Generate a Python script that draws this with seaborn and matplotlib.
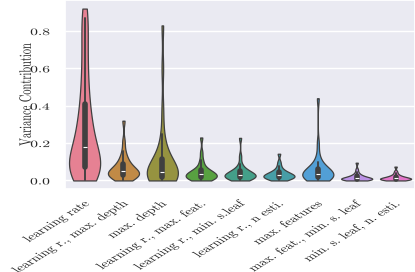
import numpy as np
import pandas as pd
import matplotlib
matplotlib.use("Agg")
import matplotlib.pyplot as plt
import seaborn as sns
from matplotlib.patheffects import AbstractPathEffect
from matplotlib.transforms import Affine2D

params = ["learning rate", "learning r., max. depth", "max. depth",
          "learning r., max. feat.", "learning r., min. s.leaf",
          "learning r., n esti.", "max. features", "max. feat., min. s. leaf",
          "min. s. leaf, n. esti."]

lr = [0.0, 0.005, 0.012, 0.02, 0.028, 0.035, 0.042, 0.048,
      0.055, 0.065, 0.075, 0.085, 0.095, 0.105, 0.115, 0.125, 0.135, 0.145,
      0.155, 0.17, 0.19, 0.21, 0.23, 0.25, 0.27, 0.29, 0.31, 0.34, 0.37, 0.40,
      0.44, 0.48, 0.53, 0.58, 0.64, 0.70, 0.76, 0.82, 0.87, 0.92]
lr_md = [0.0, 0.005, 0.01, 0.015, 0.02, 0.024, 0.028, 0.031, 0.034, 0.037, 0.04, 0.043, 0.046,
         0.05, 0.055, 0.06, 0.066, 0.072, 0.08, 0.09, 0.1, 0.115, 0.13, 0.16, 0.21, 0.32]
md = [0.0, 0.003, 0.006, 0.009, 0.012, 0.015, 0.018, 0.021, 0.024, 0.027, 0.03, 0.033, 0.037,
      0.042, 0.048, 0.055, 0.063, 0.072, 0.082, 0.095, 0.11, 0.13, 0.155, 0.19, 0.25, 0.38,
      0.6, 0.83]
lr_mf = [0.0, 0.002, 0.005, 0.008, 0.01, 0.013, 0.016, 0.019, 0.022, 0.025, 0.028, 0.03, 0.032,
         0.035, 0.038, 0.041, 0.045, 0.05, 0.055, 0.06, 0.07, 0.09, 0.11, 0.15, 0.23]
lr_msl = [0.0, 0.003, 0.006, 0.009, 0.012, 0.015, 0.018, 0.02, 0.022, 0.024, 0.026, 0.028, 0.03,
          0.032, 0.035, 0.038, 0.041, 0.045, 0.05, 0.055, 0.06, 0.07, 0.09, 0.13, 0.228]
lr_ne = [0.0, 0.002, 0.005, 0.008, 0.011, 0.014, 0.016, 0.018, 0.02, 0.022, 0.024, 0.026, 0.028,
         0.03, 0.032, 0.035, 0.038, 0.041, 0.045, 0.05, 0.055, 0.065, 0.08, 0.1, 0.143]
mf = [0.0, 0.003, 0.006, 0.01, 0.013, 0.016, 0.019, 0.022, 0.025, 0.028, 0.031, 0.034, 0.037,
      0.04, 0.043, 0.047, 0.051, 0.056, 0.062, 0.07, 0.08, 0.1, 0.13, 0.2, 0.44]
mf_msl = [0.0, 0.001, 0.002, 0.003, 0.004, 0.005, 0.006, 0.007, 0.008, 0.009, 0.01, 0.011, 0.012,
          0.013, 0.014, 0.016, 0.018, 0.02, 0.023, 0.026, 0.03, 0.035, 0.045, 0.06, 0.095]
msl_ne = [0.0, 0.001, 0.002, 0.003, 0.004, 0.005, 0.006, 0.007, 0.008, 0.009, 0.01, 0.011, 0.012,
          0.013, 0.014, 0.015, 0.017, 0.019, 0.021, 0.024, 0.027, 0.032, 0.04, 0.05, 0.074]

samples = [lr, lr_md, md, lr_mf, lr_msl, lr_ne, mf, mf_msl, msl_ne]
df = pd.DataFrame({
    "param": np.repeat(params, [len(s) for s in samples]),
    "value": np.concatenate(samples),
})


class StretchX(AbstractPathEffect):
    # the reference picture is stretched sideways, so widen glyphs about their right end
    def __init__(self, sx=1.6):
        super().__init__()
        self.sx = sx

    def draw_path(self, renderer, gc, tpath, affine, rgbFace=None):
        x1 = tpath.get_extents(affine).x1
        stretch = Affine2D().translate(-x1, 0).scale(self.sx, 1).translate(x1, 0)
        renderer.draw_path(gc, tpath, affine + stretch, rgbFace)


sns.set_theme(style="darkgrid")
plt.rcParams["font.family"] = ["cmr10", "DejaVu Serif"]
plt.rcParams["axes.formatter.use_mathtext"] = True

fig, ax = plt.subplots(figsize=(4.15, 2.72), dpi=100)
sns.violinplot(data=df, x="param", y="value", hue="param", palette="husl",
               cut=0, density_norm="width", bw_adjust=0.7, linewidth=0.9,
               legend=False, ax=ax)
ax.set_xlabel("")
ax.set_ylabel("Variance Contribution", fontsize=7.5, labelpad=3)
ax.set_yticks([0.0, 0.2, 0.4, 0.6, 0.8])
ax.tick_params(axis="y", labelsize=7, pad=4)
ax.tick_params(axis="x", labelsize=7, pad=2)
plt.setp(ax.get_xticklabels(), rotation=45, ha="right", rotation_mode="anchor")

fx = StretchX(1.6)
for t in ax.get_xticklabels() + ax.get_yticklabels() + [ax.yaxis.label]:
    t.set_path_effects([fx])

fig.subplots_adjust(left=0.157, right=1.0, top=1.0, bottom=0.305)
fig.savefig("out.png", dpi=100)
